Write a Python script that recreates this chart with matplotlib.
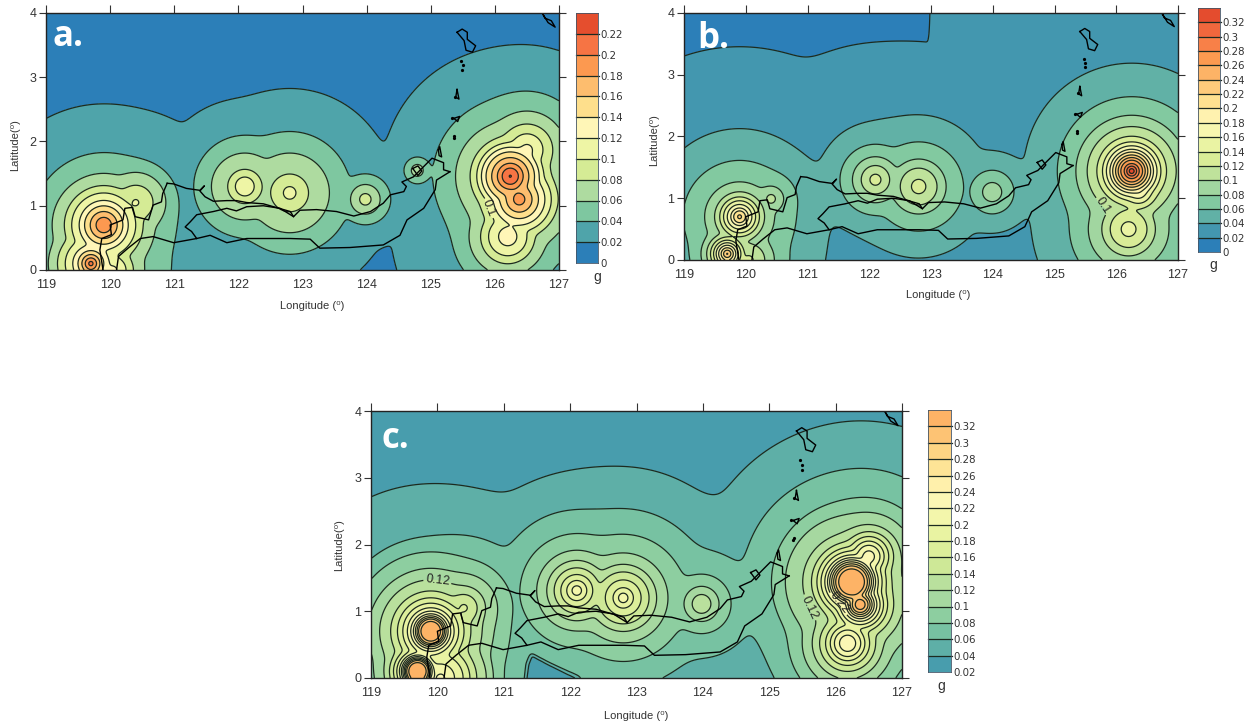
import numpy as np
import matplotlib
matplotlib.use("Agg")
import matplotlib.pyplot as plt
from matplotlib.colors import LinearSegmentedColormap
from matplotlib.path import Path

plt.rcParams['font.family'] = ['Liberation Sans', 'DejaVu Sans']

FIG_W = 1254
FIG_H = 727

# colour ramp, low to high
RAMP = ['#2c7fb8', '#4fa4aa', '#7fc8a0', '#aedba0', '#d5eb95', '#eef5a5',
        '#fff7b8', '#fedf8c', '#fdbd6e', '#fc9a50', '#f67545', '#e54e2e', '#d73027']

# source positions
A_LON = [119.7, 119.9, 120.4, 120.05, 122.1, 122.8, 123.98, 124.79, 126.24, 126.38, 126.2, 126.5]
A_LAT = [0.1, 0.7, 1.05, 0.0, 1.3, 1.2, 1.1, 1.55, 1.46, 1.1, 0.52, 1.87]
A_PEAK = [0.215, 0.19, 0.105, 0.125, 0.112, 0.11, 0.085, 0.07, 0.225, 0.185, 0.125, 0.122]
# distance (deg) at which each source falls to 0.02, 0.04, 0.06 ... g
A_RADII = [
  [1.6, 0.9, 0.66, 0.52, 0.4, 0.28, 0.2, 0.14, 0.09, 0.04],
  [1.88, 1.12, 0.8, 0.61, 0.5, 0.38, 0.3, 0.21, 0.13],
  [1.4, 0.65, 0.47, 0.27, 0.05],
  [1.7, 0.89, 0.48, 0.31, 0.2, 0.06],
  [1.36, 0.79, 0.52, 0.26, 0.155],
  [1.62, 0.95, 0.62, 0.29, 0.1],
  [0.78, 0.39, 0.23, 0.1],
  [0.5, 0.2, 0.1],
  [2.0, 1.2, 0.85, 0.62, 0.52, 0.45, 0.38, 0.29, 0.2, 0.13, 0.03],
  [1.9, 1.1, 0.8, 0.6, 0.5, 0.4, 0.3, 0.2, 0.1],
  [1.8, 0.85, 0.6, 0.42, 0.3, 0.155],
  [1.6, 0.9, 0.6, 0.4, 0.25, 0.1],
]

B_LON = [119.7, 119.9, 120.41, 120.05, 122.1, 122.8, 123.99, 126.25, 126.36, 126.2]
B_LAT = [0.1, 0.7, 0.99, 0.0, 1.3, 1.19, 1.1, 1.44, 1.12, 0.5]
B_PEAK = [0.25, 0.23, 0.115, 0.13, 0.125, 0.13, 0.09, 0.335, 0.18, 0.145]
B_RADII = [
  [2.0, 1.0, 0.6, 0.42, 0.33, 0.27, 0.22, 0.18, 0.14, 0.1, 0.06, 0.03],
  [2.75, 1.42, 0.91, 0.56, 0.4, 0.32, 0.26, 0.2, 0.14, 0.1, 0.04],
  [1.4, 0.8, 0.4, 0.2, 0.07],
  [2.6, 1.18, 0.65, 0.41, 0.26, 0.07],
  [2.2, 0.92, 0.57, 0.37, 0.23, 0.1],
  [2.33, 1.15, 0.72, 0.44, 0.3, 0.12],
  [1.2, 0.66, 0.35, 0.16],
  [3.1, 1.74, 1.2, 0.9, 0.72, 0.56, 0.47, 0.41, 0.35, 0.31, 0.26, 0.22, 0.18, 0.12, 0.08, 0.05],
  [2.4, 1.4, 0.85, 0.55, 0.38, 0.28, 0.2, 0.12],
  [2.3, 1.55, 0.95, 0.65, 0.43, 0.3, 0.13],
]
B_EAST_LON = 122.97
B_EAST_FLOOR = 0.022

C_LON = [119.7, 119.9, 120.4, 120.05, 122.1, 122.8, 123.98, 126.24, 126.37, 126.18, 126.5]
C_LAT = [0.1, 0.7, 1.05, 0.0, 1.31, 1.2, 1.11, 1.44, 1.1, 0.52, 1.82]
C_PEAK = [0.34, 0.34, 0.17, 0.23, 0.21, 0.21, 0.13, 0.34, 0.33, 0.235, 0.225]
C_RADII = [
  [3.2, 2.0, 1.2, 0.85, 0.65, 0.5, 0.42, 0.36, 0.31, 0.27, 0.24, 0.22, 0.2, 0.18, 0.165, 0.15],
  [3.6, 2.2, 1.4, 1.19, 0.94, 0.77, 0.6, 0.5, 0.42, 0.35, 0.3, 0.26, 0.23, 0.205, 0.185, 0.165],
  [2.6, 1.7, 1.05, 0.72, 0.5, 0.32, 0.2, 0.05],
  [3.4, 2.2, 1.31, 0.95, 0.79, 0.69, 0.54, 0.44, 0.34, 0.21, 0.06],
  [3.0, 1.75, 1.2, 0.85, 0.6, 0.45, 0.34, 0.24, 0.15, 0.08],
  [3.2, 1.95, 1.33, 0.95, 0.67, 0.5, 0.39, 0.27, 0.15, 0.08],
  [2.5, 1.5, 0.8, 0.44, 0.26, 0.15],
  [3.6, 2.33, 1.64, 1.2, 1.0, 0.73, 0.6, 0.52, 0.46, 0.4, 0.36, 0.33, 0.3, 0.27, 0.24, 0.21],
  [3.4, 2.1, 1.45, 1.05, 0.85, 0.63, 0.5, 0.41, 0.35, 0.3, 0.25, 0.21, 0.18, 0.15, 0.12, 0.09],
  [3.0, 1.8, 1.2, 0.88, 0.68, 0.53, 0.42, 0.33, 0.26, 0.2, 0.13],
  [3.2, 1.95, 1.25, 0.85, 0.65, 0.47, 0.37, 0.3, 0.23, 0.17, 0.1],
]
# low pocket on the south coast of panel c
C_HOLE_LON = [121.33, 121.36, 121.42, 121.7, 122.15, 121.33]
C_HOLE_LAT = [-0.02, 0.2, 0.35, 0.2, -0.02, -0.02]
C_HOLE_G = 0.035

A_LEVELS = [round(0.02 * i, 2) for i in range(13)]
B_LEVELS = [round(0.02 * i, 2) for i in range(18)]
C_LEVELS = [round(0.02 * i, 2) for i in range(1, 18)]

A_TICKS = ['0', '0.02', '0.04', '0.06', '0.08', '0.1', '0.12', '0.14', '0.16', '0.18', '0.2', '0.22']
B_TICKS = A_TICKS + ['0.24', '0.26', '0.28', '0.3', '0.32']
C_TICKS = B_TICKS[1:]

NORTH_LON = [120.89, 120.99, 121.19, 121.40, 121.47, 121.40, 121.48, 121.61, 121.82, 121.97, 122.13, 122.39,
             122.6, 122.81, 122.86, 122.96, 123.22, 123.53, 123.8, 124.06, 124.26, 124.37, 124.58, 124.62,
             124.55, 124.73, 124.94, 125.02, 125.2, 125.2, 125.3]
NORTH_LAT = [1.35, 1.34, 1.27, 1.24, 1.31, 1.23, 1.14, 1.07, 1.08, 1.08, 1.05, 1.03,
             0.97, 0.91, 0.83, 0.93, 0.94, 0.91, 0.84, 0.91, 1.04, 1.17, 1.22, 1.3,
             1.37, 1.45, 1.66, 1.74, 1.67, 1.56, 1.53]
SOUTH_LON = [125.3, 125.09, 125.07, 124.89, 124.63, 124.52, 124.26, 123.74, 123.27, 123.12, 122.81, 122.49,
             122.13, 121.82, 121.56, 121.35, 120.99, 120.67, 120.47, 120.28, 120.13, 120.1]
SOUTH_LAT = [1.53, 1.4, 1.25, 0.96, 0.78, 0.54, 0.39, 0.35, 0.34, 0.48, 0.49, 0.49,
             0.49, 0.425, 0.54, 0.49, 0.425, 0.52, 0.49, 0.34, 0.21, 0.0]
GULF_LON = [121.35, 121.27, 121.17, 121.25, 121.35, 121.61, 121.82, 121.97, 122.13, 122.39, 122.65, 122.86]
GULF_LAT = [0.49, 0.6, 0.67, 0.75, 0.86, 0.91, 0.96, 0.92, 0.985, 1.0, 0.96, 0.83]
WEST_LON = [120.89, 120.82, 120.8, 120.67, 120.6, 120.39, 120.35, 120.23, 120.2, 120.0, 120.02, 119.87, 119.84, 119.89]
WEST_LAT = [1.35, 1.19, 1.06, 1.01, 0.78, 0.83, 0.975, 0.96, 0.78, 0.7, 0.55, 0.49, 0.31, 0.0]
ISLE1_LON = [125.41, 125.49, 125.57, 125.57, 125.7, 125.65, 125.55, 125.52, 125.41]
ISLE1_LAT = [3.7, 3.75, 3.7, 3.59, 3.49, 3.39, 3.42, 3.57, 3.7]
ISLE2_LON = [126.75, 126.83, 126.94, 126.88, 126.78, 126.75]
ISLE2_LAT = [3.98, 3.85, 3.78, 3.88, 3.92, 3.98]
ISLE3_LON = [125.41, 125.44, 125.39, 125.41]
ISLE3_LAT = [2.81, 2.66, 2.69, 2.81]
ISLE4_LON = [125.36, 125.45, 125.42, 125.36]
ISLE4_LAT = [2.36, 2.39, 2.31, 2.36]
ISLE5_LON = [124.72, 124.8, 124.86, 124.8, 124.72]
ISLE5_LAT = [1.58, 1.62, 1.54, 1.47, 1.58]
ISLE6_LON = [125.12, 125.14, 125.17, 125.13, 125.12]
ISLE6_LAT = [1.87, 1.92, 1.76, 1.78, 1.87]
DOT_LON = [125.47, 125.5, 125.49, 125.38, 125.33, 125.36, 125.37]
DOT_LAT = [3.26, 3.19, 3.12, 2.7, 2.37, 2.06, 2.09]

COAST = [(NORTH_LON, NORTH_LAT), (SOUTH_LON, SOUTH_LAT), (GULF_LON, GULF_LAT), (WEST_LON, WEST_LAT),
         (ISLE1_LON, ISLE1_LAT), (ISLE2_LON, ISLE2_LAT), (ISLE3_LON, ISLE3_LAT), (ISLE4_LON, ISLE4_LAT),
         (ISLE5_LON, ISLE5_LAT), (ISLE6_LON, ISLE6_LAT)]


def px_axes(fig, left, top, right, bottom):
  """Add axes from pixel edges measured on the picture"""
  return fig.add_axes([left / FIG_W, 1 - bottom / FIG_H, (right - left) / FIG_W, (bottom - top) / FIG_H])


def soften(field):
  """Light smoothing so that the lobes run into each other"""
  kernel = np.exp(-0.5 * (np.arange(-9, 10) / 3.0) ** 2)
  kernel = kernel / kernel.sum()
  padded = np.pad(field, 9, mode='edge')
  padded = np.apply_along_axis(lambda row: np.convolve(row, kernel, mode='same'), 1, padded)
  padded = np.apply_along_axis(lambda col: np.convolve(col, kernel, mode='same'), 0, padded)
  return padded[9:-9, 9:-9]


def build_field(lons, lats, peaks, radii, grid_x, grid_y, floor):
  """Combine the sources, each with its own distance table"""
  total = np.full(grid_x.shape, floor) ** 20
  for lon, lat, peak, rad in zip(lons, lats, peaks, radii):
    levels = 0.02 * np.arange(1, len(rad) + 1)
    dist_tab = np.concatenate(([0.0], rad[::-1], [rad[0] * 1.6]))
    g_tab = np.concatenate(([peak], levels[::-1], [floor]))
    dist = np.hypot(grid_x - lon, grid_y - lat)
    total = total + np.interp(dist, dist_tab, g_tab) ** 20
  return total ** (1 / 20)


def draw_panel(fig, box, cbox, field, grid_x, grid_y, levels, colors, ticks, name, name_pos, labels, text_pos, g_x):
  ax = px_axes(fig, *box)
  ax.contourf(grid_x, grid_y, field, levels=levels, colors=colors, extend='both')
  labelled = sorted({level for level, _ in labels})
  plain = [lv for lv in levels[1:] if lv not in labelled]
  ax.contour(grid_x, grid_y, field, levels=plain, colors='#1c2a20', linewidths=0.9)
  for lv in labelled:
    cs = ax.contour(grid_x, grid_y, field, levels=[lv], colors='#1c2a20', linewidths=0.9)
    spots = [pos for level, pos in labels if level == lv]
    ax.clabel(cs, manual=spots, fmt='%g', fontsize=9, inline_spacing=2, colors='#222222')

  for xs, ys in COAST:
    ax.plot(xs, ys, color='black', lw=1.0)
  ax.plot(DOT_LON, DOT_LAT, ls='none', marker='o', ms=1.3, color='black')

  ax.set_xlim(119, 127)
  ax.set_ylim(0, 4)
  ax.set_xticks(range(119, 128))
  ax.set_yticks(range(0, 5))
  ax.tick_params(axis='x', top=True, bottom=False, length=6, width=0.8, labelsize=9, colors='#333333', pad=0.5)
  ax.tick_params(axis='y', right=True, length=5, width=0.8, labelsize=9, colors='#333333', pad=2)
  for side in ax.spines.values():
    side.set_linewidth(1.0)
    side.set_color('#222222')
  ax.text(name_pos[0], name_pos[1], name, color='white', fontsize=25, fontweight='bold',
          family=['Open Sans', 'DejaVu Sans'], va='center', ha='left', transform=ax.transAxes)

  fig.text(text_pos[0] / FIG_W, 1 - text_pos[1] / FIG_H, 'Longitude (\u2070)', fontsize=8, color='#333333',
           ha='center', va='center')
  fig.text(text_pos[2] / FIG_W, 1 - text_pos[3] / FIG_H, 'Latitude(\u2070)', fontsize=8, color='#333333',
           ha='center', va='center', rotation=90)

  cax = px_axes(fig, *cbox)
  cols = np.array(levels)
  for i, color in enumerate(colors):
    cax.fill_between([0, 1], cols[i], cols[i + 1], color=color, lw=0)
    if i > 0:
      cax.plot([0, 1.04], [cols[i], cols[i]], color='#1c2a20', lw=0.9, clip_on=False)
  cax.set_xlim(0, 1)
  cax.set_ylim(cols[0], cols[-1])
  cax.set_xticks([])
  cax.yaxis.tick_right()
  cax.set_yticks(cols[:len(ticks)])
  cax.set_yticklabels(ticks, fontsize=7.4, family='DejaVu Sans', color='#333333')
  cax.tick_params(axis='y', length=0, pad=2)
  for side in cax.spines.values():
    side.set_linewidth(0.6)
    side.set_color('#445566')
  cax.text(g_x, -0.055, 'g', transform=cax.transAxes, fontsize=10, color='#333333', ha='center', va='center')
  return ax


def main():
  ramp = LinearSegmentedColormap.from_list('ramp', RAMP)
  colors_a = [ramp(i / 12) for i in range(12)]
  colors_b = [ramp(i / 16 * 0.92) for i in range(17)]
  colors_c = [ramp(0.07 + i / 15 * 0.62) for i in range(16)]

  xs = np.linspace(119, 127, 1201)
  ys = np.linspace(0, 4, 601)
  grid_x, grid_y = np.meshgrid(xs, ys)

  field_a = soften(build_field(A_LON, A_LAT, A_PEAK, A_RADII, grid_x, grid_y, 0.005))
  field_b = build_field(B_LON, B_LAT, B_PEAK, B_RADII, grid_x, grid_y, 0.005)
  field_b = soften(np.where(grid_x > B_EAST_LON, np.maximum(field_b, B_EAST_FLOOR), field_b))
  field_c = build_field(C_LON, C_LAT, C_PEAK, C_RADII, grid_x, grid_y, 0.025)
  hole = Path(np.column_stack([C_HOLE_LON, C_HOLE_LAT]))
  in_hole = hole.contains_points(np.column_stack([grid_x.ravel(), grid_y.ravel()])).reshape(grid_x.shape)
  field_c = soften(np.where(in_hole, np.minimum(field_c, C_HOLE_G), field_c))

  fig = plt.figure(figsize=(FIG_W / 100, FIG_H / 100), dpi=100)
  draw_panel(fig, (46, 13, 559, 270), (576, 13, 598, 263), field_a, grid_x, grid_y, A_LEVELS, colors_a, A_TICKS,
             'a.', (0.012, 0.905), [(0.1, (125.97, 0.98))], (312, 306, 15, 145), 0.95)
  draw_panel(fig, (684, 13, 1178, 260), (1198, 8, 1220, 252), field_b, grid_x, grid_y, B_LEVELS, colors_b, B_TICKS,
             'b.', (0.027, 0.895), [(0.1, (125.79, 0.88))], (938, 295, 654, 140), 0.7)
  draw_panel(fig, (371, 411, 902, 678), (928, 410, 951, 672), field_c, grid_x, grid_y, C_LEVELS, colors_c, C_TICKS,
             'c.', (0.02, 0.895), [(0.12, (120.0, 1.45)), (0.12, (125.5, 1.0)), (0.22, (126.02, 1.07))],
             (636, 716, 339, 545), 0.56)
  fig.savefig('out.png', dpi=100)


if __name__ == "__main__":
  main()
